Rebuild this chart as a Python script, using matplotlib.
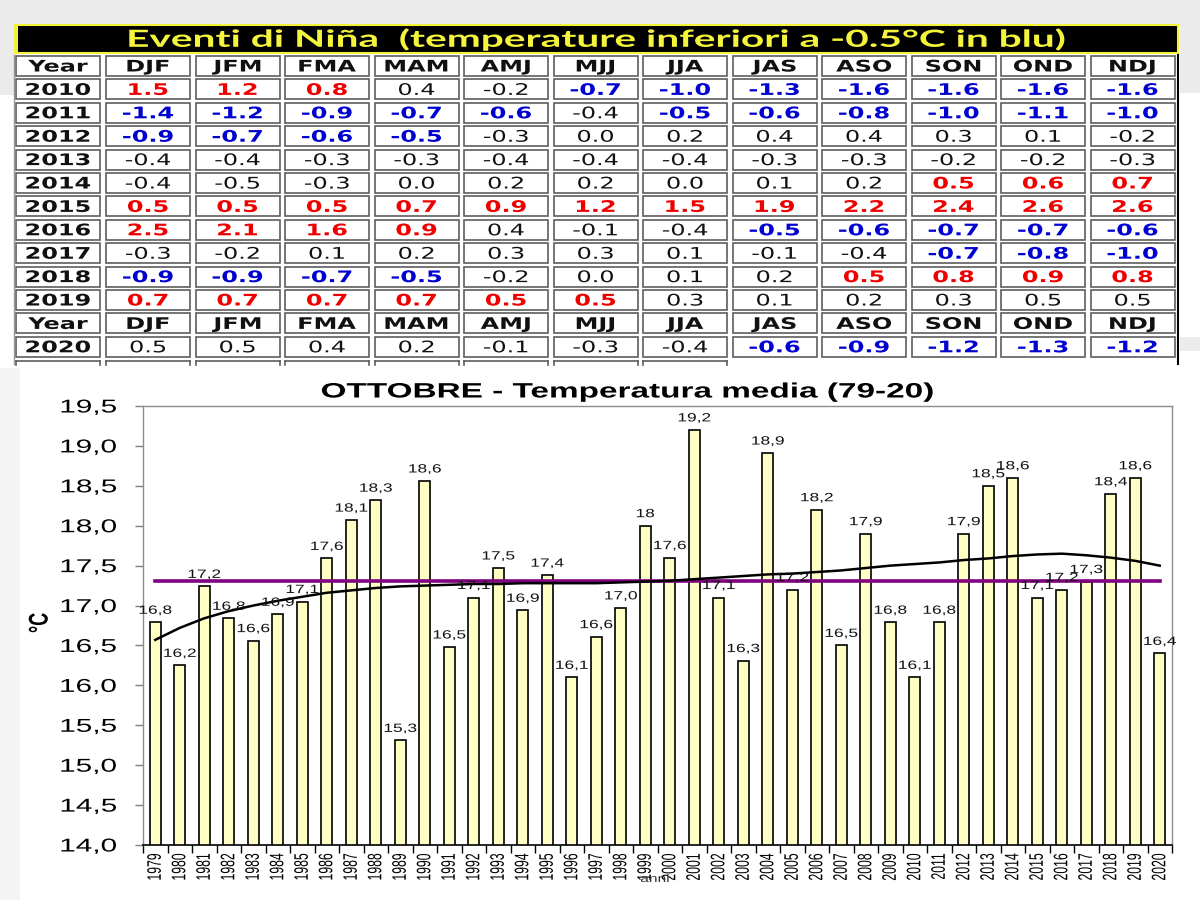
import numpy as np
import matplotlib
matplotlib.use('Agg')
import matplotlib.pyplot as plt
from matplotlib.patches import Rectangle
from matplotlib.patheffects import AbstractPathEffect
from matplotlib.transforms import Affine2D

# ---- table: ONI values (Nino 3.4) ----
seasons = ['DJF', 'JFM', 'FMA', 'MAM', 'AMJ', 'MJJ', 'JJA', 'JAS', 'ASO', 'SON', 'OND', 'NDJ']
tab_years = [2010, 2011, 2012, 2013, 2014, 2015, 2016, 2017, 2018, 2019, 2020]
oni = [
    [1.5, 1.2, 0.8, 0.4, -0.2, -0.7, -1.0, -1.3, -1.6, -1.6, -1.6, -1.6],
    [-1.4, -1.2, -0.9, -0.7, -0.6, -0.4, -0.5, -0.6, -0.8, -1.0, -1.1, -1.0],
    [-0.9, -0.7, -0.6, -0.5, -0.3, 0.0, 0.2, 0.4, 0.4, 0.3, 0.1, -0.2],
    [-0.4, -0.4, -0.3, -0.3, -0.4, -0.4, -0.4, -0.3, -0.3, -0.2, -0.2, -0.3],
    [-0.4, -0.5, -0.3, 0.0, 0.2, 0.2, 0.0, 0.1, 0.2, 0.5, 0.6, 0.7],
    [0.5, 0.5, 0.5, 0.7, 0.9, 1.2, 1.5, 1.9, 2.2, 2.4, 2.6, 2.6],
    [2.5, 2.1, 1.6, 0.9, 0.4, -0.1, -0.4, -0.5, -0.6, -0.7, -0.7, -0.6],
    [-0.3, -0.2, 0.1, 0.2, 0.3, 0.3, 0.1, -0.1, -0.4, -0.7, -0.8, -1.0],
    [-0.9, -0.9, -0.7, -0.5, -0.2, 0.0, 0.1, 0.2, 0.5, 0.8, 0.9, 0.8],
    [0.7, 0.7, 0.7, 0.7, 0.5, 0.5, 0.3, 0.1, 0.2, 0.3, 0.5, 0.5],
    [0.5, 0.5, 0.4, 0.2, -0.1, -0.3, -0.4, -0.6, -0.9, -1.2, -1.3, -1.2],
]
# r = El Nino, b = La Nina, . = neutral
events = ['rrr..bbbbbbb', 'bbbbb.bbbbbb', 'bbbb........', '............',
          '.........rrr', 'rrrrrrrrrrrr', 'rrrr...bbbbb', '.........bbb',
          'bbbb....rrrr', 'rrrrrr......', '.......bbbbb']

# ---- chart: October mean temperature ----
years = list(range(1979, 2021))
temp = [16.79, 16.25, 17.24, 16.84, 16.56, 16.89, 17.05, 17.59, 18.07, 18.32,
        15.31, 18.56, 16.48, 17.10, 17.47, 16.94, 17.38, 16.10, 16.61, 16.97,
        18.00, 17.60, 19.20, 17.10, 16.31, 18.91, 17.20, 18.20, 16.50, 17.90,
        16.79, 16.10, 16.79, 17.90, 18.50, 18.60, 17.10, 17.20, 17.30, 18.40,
        18.60, 16.40]
temp_lbl = ['16,8', '16,2', '17,2', '16,8', '16,6', '16,9', '17,1', '17,6', '18,1', '18,3',
            '15,3', '18,6', '16,5', '17,1', '17,5', '16,9', '17,4', '16,1', '16,6', '17,0',
            '18', '17,6', '19,2', '17,1', '16,3', '18,9', '17,2', '18,2', '16,5', '17,9',
            '16,8', '16,1', '16,8', '17,9', '18,5', '18,6', '17,1', '17,2', '17,3', '18,4',
            '18,6', '16,4']
# trend curve
trend = [16.57, 16.72, 16.84, 16.93, 17.00, 17.06, 17.11, 17.16, 17.19, 17.22,
         17.24, 17.25, 17.26, 17.27, 17.27, 17.28, 17.28, 17.28, 17.28, 17.29,
         17.30, 17.31, 17.33, 17.35, 17.37, 17.39, 17.40, 17.42, 17.44, 17.47,
         17.50, 17.52, 17.54, 17.57, 17.59, 17.62, 17.64, 17.65, 17.63, 17.60,
         17.56, 17.50]


class Stretch(AbstractPathEffect):
    # the source picture is stretched sideways, so widen the glyphs the same way
    def __init__(self, sx=1.5, anchor='center'):
        super().__init__()
        self.sx = sx
        self.anchor = anchor

    def draw_path(self, renderer, gc, tpath, affine, rgbFace=None):
        ext = tpath.get_extents(affine)
        cx = ext.x1 if self.anchor == 'right' else (ext.x0 + ext.x1) / 2
        aff = affine + Affine2D().translate(-cx, 0).scale(self.sx, 1).translate(cx, 0)
        renderer.draw_path(gc, tpath, aff, rgbFace)


W, H = 1200, 900
fig = plt.figure(figsize=(12, 9), dpi=100, facecolor='white')
bg = fig.add_axes([0, 0, 1, 1])
bg.set_xlim(0, W)
bg.set_ylim(H, 0)
bg.axis('off')

gray = '#ebebeb'
bg.add_patch(Rectangle((0, 0), W, 25, fc=gray, ec='none'))
bg.add_patch(Rectangle((0, 25), 15, 70, fc=gray, ec='none'))
bg.add_patch(Rectangle((1180, 25), 20, 68, fc=gray, ec='none'))
bg.add_patch(Rectangle((1180, 337), 20, 14, fc=gray, ec='none'))
bg.add_patch(Rectangle((0, 368), 20, H - 368, fc='#f4f4f4', ec='none'))

# title bar
bg.add_patch(Rectangle((15, 25), 1163, 28, fc='black', ec='#f2f23a', lw=1.5))
bg.add_patch(Rectangle((15, 25), 3, 28, fc='#f2f23a', ec='none'))
bg.text(597, 39, 'Eventi di Niña  (temperature inferiori a -0.5°C in blu)',
        ha='center', va='center', color='#f4f43c', fontsize=17, fontweight='bold',
        family=['Lato', 'DejaVu Sans'], path_effects=[Stretch(1.72)])

# table cells
SX = 1.5
col_x0 = [16] + [106 + j * 89.5 for j in range(12)]
cw, ch = 84, 20
row0, pitch = 66, 23.4
txtcol = {'r': '#ee0000', 'b': '#0000d0', '.': '#111111'}


def cell(x0, yc, s, color='#111111', bold=True):
    bg.add_patch(Rectangle((x0, yc - ch / 2), cw, ch, fc='white', ec='#5e5e5e', lw=1.2))
    bg.text(x0 + cw / 2, yc + 1, s, ha='center', va='center', color=color,
            fontsize=11.5, fontweight='bold' if bold else 'normal',
            family='DejaVu Sans', path_effects=[Stretch(SX)])


rows = [None] + list(range(10)) + [None] + [10]
for r, k in enumerate(rows):
    yc = row0 + r * pitch
    if k is None:
        cell(col_x0[0], yc, 'Year')
        for j, s in enumerate(seasons):
            cell(col_x0[j + 1], yc, s)
    else:
        cell(col_x0[0], yc, str(tab_years[k]))
        for j, v in enumerate(oni[k]):
            f = events[k][j]
            cell(col_x0[j + 1], yc, f'{v:.1f}', txtcol[f], bold=(f != '.'))

# cut-off row under 2020
ycut = row0 + 13 * pitch - ch / 2 + 1
for j in range(8):
    x0 = col_x0[j]
    bg.plot([x0, x0 + cw], [ycut, ycut], color='#5e5e5e', lw=1.2)
    bg.plot([x0, x0], [ycut, ycut + 4], color='#5e5e5e', lw=1.2)
    bg.plot([x0 + cw, x0 + cw], [ycut, ycut + 4], color='#5e5e5e', lw=1.2)
bg.plot([1178, 1178], [55, 364], color='black', lw=1.5)
bg.plot([14, 14], [55, 364], color='#999999', lw=1)

# ---- bar chart ----
ax = fig.add_axes([143 / W, 1 - 845 / H, 1029 / W, 439 / H])
ax.set_facecolor('white')
x = np.arange(len(years))
ax.bar(x, temp, width=0.43, color='#ffffc4', edgecolor='black', linewidth=1.2, zorder=2)
ax.plot(x, [np.mean(temp)] * len(x), color='#800080', lw=2.6, zorder=3)
ax.plot(x, trend, color='black', lw=1.8, zorder=4)
for xi, v, s in zip(x, temp, temp_lbl):
    ax.annotate(s, (xi, v), xytext=(0, 4), textcoords='offset points',
                ha='center', va='bottom', fontsize=8.6, family='Liberation Sans',
                color='#111111', zorder=5, path_effects=[Stretch(1.45)])

ax.set_xlim(-0.5, len(years) - 0.5)
ax.set_ylim(14.0, 19.5)
yt = np.arange(14.0, 19.51, 0.5)
ax.set_yticks(yt)
ax.set_yticklabels([f'{v:.1f}'.replace('.', ',') for v in yt], fontsize=13.4,
                   family='Liberation Sans', path_effects=[Stretch(1.6, 'right')])
ax.tick_params(axis='y', direction='out', length=6, width=1, color='#808080', pad=13)
ax.set_xticks(x)
ax.set_xticklabels([str(y) for y in years], rotation=90, fontsize=8.8,
                   family='Liberation Sans', path_effects=[Stretch(1.6)])
ax.tick_params(axis='x', which='major', length=0, pad=6)
ax.set_xticks(np.arange(-0.5, len(years), 1), minor=True)
ax.tick_params(axis='x', which='minor', direction='out', length=6, width=1, color='black')
for side in ['top', 'right', 'left']:
    ax.spines[side].set_color('#8c8c8c')
    ax.spines[side].set_linewidth(1)
ax.spines['bottom'].set_color('black')
ax.spines['bottom'].set_linewidth(1.2)

fig.text(628 / W, 1 - 392 / H, 'OTTOBRE - Temperatura media (79-20)', ha='center', va='center',
         fontsize=15, fontweight='bold', family='Liberation Sans', path_effects=[Stretch(1.6)])
fig.text(40 / W, 1 - 623 / H, '°C', rotation=90, ha='center', va='center', fontsize=13,
         fontweight='bold', family='Liberation Sans', path_effects=[Stretch(1.5)])
fig.text(655 / W, 1 - 879 / H, 'anni', ha='center', va='center', fontsize=8,
         family='Liberation Sans', color='#333333', path_effects=[Stretch(1.4)])

fig.savefig('out.png', dpi=100, facecolor='white')
